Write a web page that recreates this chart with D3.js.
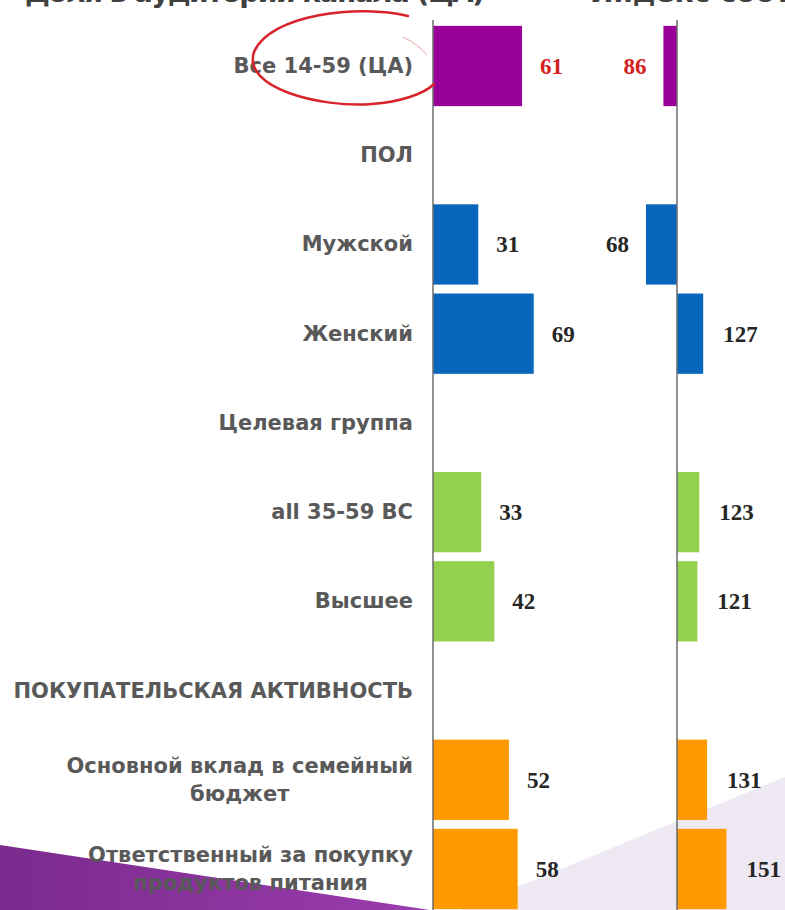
<!DOCTYPE html>
<html>
<head>
<meta charset="utf-8">
<script src="https://cdn.jsdelivr.net/npm/d3@7/dist/d3.min.js"></script>
<style>
  html, body { margin: 0; padding: 0; background: #fff; }
  svg { display: block; }
</style>
</head>
<body>
<div id="chart"></div>
<script>
// rows of the table (section headers have no values)
const categories = [
  "Все 14-59 (ЦА)",
  "ПОЛ",
  "Мужской",
  "Женский",
  "Целевая группа",
  "all 35-59 BC",
  "Высшее",
  "ПОКУПАТЕЛЬСКАЯ АКТИВНОСТЬ",
  "Основной вклад в семейный|бюджет",
  "Ответственный за покупку|продуктов питания"
];
const share = [61, null, 31, 69, null, 33, 42, null, 52, 58];
const affinity = [86, null, 68, 127, null, 123, 121, null, 131, 151];
const groups = ["all", null, "sex", "sex", null, "target", "target", null, "buy", "buy"];
const titles = ["Доля в аудитории канала (ЦА)", "Индекс соответствия (ЦА)"];

const width = 785, height = 910;
const colors = {all: "#990099", sex: "#0867BD", target: "#92D050", buy: "#FF9900"};

const svg = d3.select("#chart").append("svg")
    .attr("width", width)
    .attr("height", height);

// background decoration of the slide
const defs = svg.append("defs");
const grad = defs.append("linearGradient").attr("id", "purp")
    .attr("x1", "0%").attr("x2", "100%").attr("y1", "0%").attr("y2", "0%");
grad.append("stop").attr("offset", "0%").attr("stop-color", "#7A2A8C");
grad.append("stop").attr("offset", "100%").attr("stop-color", "#9B3DAF");

svg.append("path")
    .attr("d", "M785,777 L461,910 L785,910 Z")
    .attr("fill", "#EEE8F3");
svg.append("path")
    .attr("d", "M0,845 L430,910 L0,910 Z")
    .attr("fill", "url(#purp)");

const y = d3.scaleBand()
    .domain(d3.range(categories.length))
    .range([21.4, 913.6])
    .paddingInner(0.1)
    .paddingOuter(0.05);

const xShare = d3.scaleLinear().domain([0, 100]).range([433, 579]);
const xAff = d3.scaleLinear().domain([0, 200]).range([580, 774]);

// slide titles, cut off by the top edge
svg.append("text")
    .attr("x", 25).attr("y", 2)
    .attr("textLength", 460)
    .style("font", "bold 28px 'DejaVu Sans'")
    .style("fill", "#404040")
    .text(titles[0]);
svg.append("text")
    .attr("x", 590).attr("y", 2)
    .style("font", "bold 28px 'DejaVu Sans'")
    .style("fill", "#404040")
    .text(titles[1]);

const rows = categories.map((c, i) => ({
  i, label: c.split("|"), share: share[i], aff: affinity[i], group: groups[i]
}));
const bars = rows.filter(d => d.share != null);

// category labels
const labelRight = 413;
rows.forEach(d => {
  const cy = y(d.i) + y.bandwidth() / 2;
  const g = svg.append("g");
  const lineH = 28;
  const texts = d.label.map((t, k) => g.append("text")
      .attr("y", cy + 7 + (k - (d.label.length - 1) / 2) * lineH)
      .style("font", "bold 21px 'DejaVu Sans'")
      .style("fill", "#595959")
      .text(t));
  if (texts.length === 1) {
    texts[0].attr("x", labelRight).attr("text-anchor", "end");
  } else {
    const w = d3.max(texts, t => t.node().getComputedTextLength());
    texts.forEach(t => t.attr("x", labelRight - w / 2).attr("text-anchor", "middle"));
  }
});

// share bars
svg.append("g").selectAll("rect")
  .data(bars)
  .join("rect")
    .attr("x", xShare(0))
    .attr("y", d => y(d.i))
    .attr("width", d => xShare(d.share) - xShare(0))
    .attr("height", y.bandwidth())
    .attr("fill", d => colors[d.group]);

// affinity bars around index 100
svg.append("g").selectAll("rect")
  .data(bars)
  .join("rect")
    .attr("x", d => Math.min(xAff(100), xAff(d.aff)))
    .attr("y", d => y(d.i))
    .attr("width", d => Math.abs(xAff(d.aff) - xAff(100)))
    .attr("height", y.bandwidth())
    .attr("fill", d => colors[d.group]);

// axis lines
[xShare(0), xAff(100)].forEach(x => {
  svg.append("line")
      .attr("x1", x).attr("x2", x)
      .attr("y1", 20).attr("y2", height)
      .attr("stroke", "#6B6B6B")
      .attr("stroke-width", 1.5);
});

// value labels
const valFont = "bold 23px 'Liberation Serif'";
svg.append("g").selectAll("text")
  .data(bars)
  .join("text")
    .attr("x", d => xShare(d.share) + 18)
    .attr("y", d => y(d.i) + y.bandwidth() / 2 + 8)
    .style("font", valFont)
    .style("fill", d => d.group === "all" ? "#D42020" : "#262626")
    .text(d => d.share);

svg.append("g").selectAll("text")
  .data(bars)
  .join("text")
    .attr("x", d => d.aff >= 100 ? xAff(d.aff) + 20 : xAff(d.aff) - 17)
    .attr("text-anchor", d => d.aff >= 100 ? "start" : "end")
    .attr("y", d => y(d.i) + y.bandwidth() / 2 + 8)
    .style("font", valFont)
    .style("fill", d => d.group === "all" ? "#D42020" : "#262626")
    .text(d => d.aff);

// hand-drawn red circle round the first label
const p = d3.path();
p.moveTo(408, 16);
p.bezierCurveTo(360, 4, 270, 14, 254, 52);
p.bezierCurveTo(242, 88, 320, 108, 372, 104);
p.bezierCurveTo(400, 102, 424, 94, 434, 84);
svg.append("path")
    .attr("d", p.toString())
    .attr("fill", "none")
    .attr("stroke", "#D8232A")
    .attr("stroke-width", 2.5)
    .attr("stroke-linecap", "round");
const tail = d3.path();
tail.moveTo(403, 37);
tail.quadraticCurveTo(418, 44, 427, 55);
svg.append("path")
    .attr("d", tail.toString())
    .attr("fill", "none")
    .attr("stroke", "#E6A0A0")
    .attr("stroke-width", 1);
</script>
</body>
</html>
